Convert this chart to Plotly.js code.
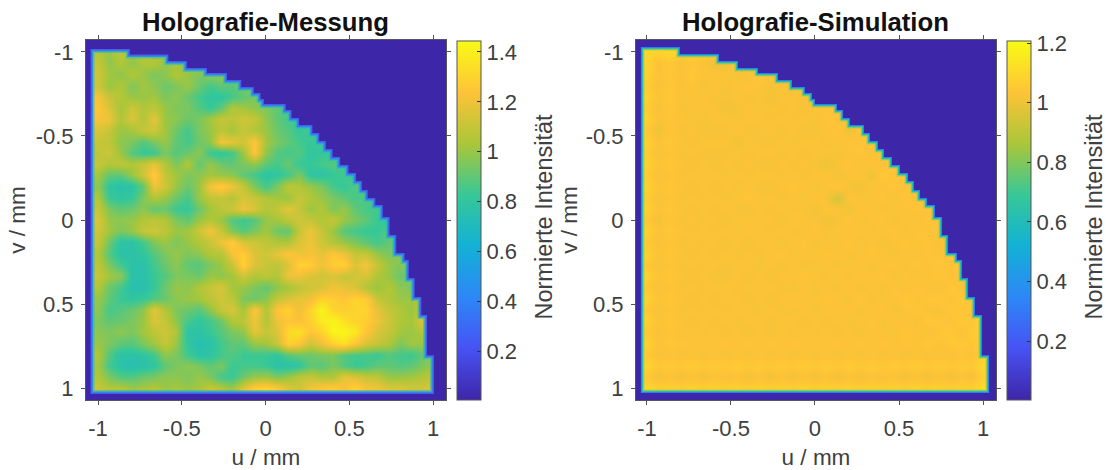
<!DOCTYPE html>
<html><head><meta charset="utf-8">
<script src="https://cdn.plot.ly/plotly-3.0.1.min.js"></script>
<style>html,body{margin:0;padding:0;background:#fff}#p{width:1106px;height:470px}</style></head>
<body><div id="p"></div>
<script>
const xTickVals=[-1,-0.5,0,0.5,1];
const xTickText=["-1","-0.5","0","0.5","1"];
const yTickVals=[-1,-0.5,0,0.5,1];
const yTickText=["-1","-0.5","0","0.5","1"];
const cbTicksMeas=[0.2,0.4,0.6,0.8,1,1.2,1.4];
const cbTicksSim=[0.2,0.4,0.6,0.8,1,1.2];
const cbText=["0.2","0.4","0.6","0.8","1","1.2","1.4"];
const parula=[[0,'#3e26a8'],[0.143,'#4752f4'],[0.286,'#2d87f7'],[0.429,'#12b1d6'],[0.571,'#37c897'],[0.714,'#abc639'],[0.857,'#fec338'],[1,'#f9fb14']];

const measRows=[
[1.05,1.0,1.08,1.02,1.08,1.0,1.05,.98],
[1.1,.98,1.05,.98,1.04,1.06,.98,1.02,.95,1.02,.98,.92],
[1.12,1.02,.98,1.05,1.0,.95,.98,1.05,1.0,.95,.98,1.0,.92,.95,.88],
[1.12,1.0,1.05,.95,1.02,.98,.92,.95,1.0,.92,.85,.9,.88,.95,.98,.92,.9],
[1.22,1.1,1.05,1.0,1.0,1.02,.95,.98,.92,.85,.8,.8,.85,.9,.95,.88,.95,.9,.85],
[1.25,1.15,1.02,1.12,1.05,1.08,1.0,.95,.95,.88,.82,.9,1.05,1.02,.98,.95,.9,.88,.92,.85],
[1.22,1.2,1.05,1.15,1.05,1.18,1.0,.98,.92,.95,1.02,1.1,1.08,1.12,1.1,.98,.9,.85,.82,.88,.82],
[1.15,1.1,1.0,1.02,1.1,1.12,1.02,.92,.85,.95,1.0,1.08,1.02,1.1,1.05,1.0,.92,.88,.82,.85,.9,.85],
[1.1,1.08,.98,.95,.88,.95,1.0,.9,.85,.92,.98,1.22,1.18,1.12,1.25,1.02,.95,.9,.85,.82,.85,.9,.82],
[1.08,1.12,1.0,.88,.82,.83,.95,.88,.92,.98,.83,.8,.85,1.0,1.25,.98,.88,.85,.88,.8,.82,.85,.88,.85],
[1.1,1.05,1.08,1.05,1.1,1.18,1.05,.95,1.05,.9,1.0,.92,.9,.95,.98,.9,.85,.92,.82,.82,.85,.88,.85,.9,.85],
[1.02,.9,.9,1.0,1.12,1.28,1.1,1.02,.95,.98,1.02,1.0,.98,.9,.85,.78,.8,.85,.95,.8,.78,.82,.85,.82,.88,.95],
[.98,.8,.76,.78,.9,1.2,1.12,1.0,.92,1.0,1.22,1.28,1.2,1.1,.95,.85,.95,1.08,1.05,1.0,.95,.85,.82,.88,.92,.9,.82],
[1.05,.83,.8,.82,.95,1.05,1.0,.92,.85,1.0,1.08,1.1,1.05,1.15,1.1,1.05,1.02,1.0,1.1,1.05,1.0,.95,.9,.85,.88,.85,.88,.82],
[1.1,.95,.9,.92,.98,.9,.92,.83,.82,.92,1.02,1.08,1.12,1.2,1.15,1.05,1.1,1.18,1.1,1.0,1.05,.95,1.0,.9,.85,.85,.9,.95],
[1.15,1.0,.98,1.0,1.05,1.08,1.05,.95,.9,1.0,1.05,1.0,.88,.83,.88,1.0,1.02,1.08,1.12,1.1,1.05,1.1,1.0,.95,.9,.83,.8,.88,.92],
[1.12,1.02,.95,1.0,1.1,1.12,1.08,1.0,1.02,1.12,1.22,1.1,.95,.88,.95,1.02,.92,.9,1.1,1.2,1.1,1.0,.88,.85,.82,.82,.88,.95,1.0,1.0],
[1.1,.92,.78,.77,.85,.95,1.0,.95,1.0,1.05,1.1,1.2,1.28,1.15,1.12,1.08,1.05,1.05,1.15,1.2,1.12,1.05,1.0,.95,.9,.85,.9,.95,.95,1.0],
[1.05,.88,.77,.77,.8,.88,.95,1.0,.95,.98,1.05,1.05,1.22,1.28,1.15,1.12,1.18,1.25,1.2,1.22,1.18,1.25,1.2,1.1,1.1,1.0,.95,1.0,.95,1.0],
[1.08,.95,.85,.77,.76,.85,.92,.98,.9,.88,.95,1.0,1.1,1.3,1.15,1.1,1.08,1.15,1.3,1.28,1.2,1.28,1.3,1.15,1.22,1.1,1.0,.95,1.0,.95,1.0],
[1.1,1.02,.98,.77,.76,.83,.88,.95,.95,.92,1.0,.98,1.02,1.12,1.05,1.08,1.05,1.2,1.2,1.15,1.12,1.15,1.1,1.12,1.15,1.05,1.0,.92,.95,1.0,1.02],
[1.05,.92,.85,.75,.75,.82,.92,1.0,.98,1.05,1.1,1.15,1.02,1.0,.95,.9,.98,1.02,1.08,1.12,1.15,1.2,1.18,1.15,1.05,1.0,1.05,.98,.95,1.02,1.0],
[1.0,.9,.83,.8,.83,.88,.92,.98,1.0,1.02,1.08,1.12,1.08,.95,.92,.98,1.1,1.15,1.18,1.2,1.3,1.28,1.25,1.3,1.28,1.1,1.05,1.0,1.02,1.05,1.0],
[.98,.85,.88,.92,.98,1.18,1.05,.95,.92,.88,.98,1.1,1.15,1.02,1.25,1.05,1.25,1.3,1.2,1.3,1.42,1.3,1.28,1.3,1.3,1.18,1.1,1.05,1.0,1.1,1.05],
[.95,.9,.92,.95,1.0,1.15,1.1,.98,.85,.8,.85,.92,1.05,1.08,1.2,1.05,1.2,1.25,1.22,1.28,1.38,1.42,1.35,1.3,1.28,1.2,1.12,1.05,1.02,1.15,1.15],
[.98,.95,.98,.95,1.02,1.08,1.12,1.05,.78,.78,.83,.88,.95,.98,1.18,1.1,1.15,1.32,1.35,1.25,1.3,1.42,1.42,1.38,1.25,1.15,1.1,1.02,1.0,1.05,1.08],
[1.0,.95,.9,.88,.95,1.02,1.1,1.0,.8,.74,.77,.85,.9,.9,1.0,1.02,1.1,1.3,1.25,1.12,1.2,1.3,1.35,1.25,1.15,1.1,1.05,.95,1.02,1.0,1.02],
[1.05,.88,.77,.77,.79,.85,.98,.95,.85,.77,.79,.85,.88,.83,.83,.83,.8,.88,.92,.92,.95,.95,.88,.85,.85,.83,.88,.85,.83,.9,1.0],
[1.02,.85,.77,.74,.76,.8,.9,.95,.98,.95,.9,.95,.83,.85,.85,.83,.77,.77,.8,.9,.88,.95,.88,.83,.85,.9,.9,.88,.9,.95,1.02],
[1.05,.95,.88,.88,.92,.95,.98,.98,.95,1.0,.95,.85,.83,.92,1.0,1.02,.95,1.0,1.08,1.1,1.05,1.05,1.18,1.15,1.1,1.08,1.0,1.0,1.02,1.05,1.08],
[1.1,1.05,1.05,1.0,1.02,1.05,1.0,1.02,1.0,1.02,1.1,1.05,1.0,1.15,1.28,1.3,1.25,1.15,1.12,1.2,1.25,1.28,1.22,1.3,1.22,1.2,1.15,1.15,1.12,1.12,1.15]
];
const simRows=[
[1.1,1.08,1.1,1.07,1.1,1.08,1.09,1.08],
[1.08,1.03,1.05,1.02,1.04,1.03,1.0,1.0,1.05,1.06,1.05,1.03],
[1.08,1.03,1.05,1.03,1.05,1.03,1.04,1.03,1.02,1.02,1.05,1.03,1.05,1.06,1.05],
[1.06,1.02,1.05,1.02,1.04,1.02,1.03,1.02,1.03,1.04,1.03,1.02,1.03,1.03,1.05,1.05,1.08],
[1.08,1.03,1.05,1.03,1.03,1.03,1.02,1.02,1.03,1.02,1.03,1.01,1.03,1.03,1.02,1.03,1.05,1.06,1.08],
[1.06,1.02,1.05,1.02,1.03,1.03,1.03,1.01,1.02,1.03,1.02,1.03,1.02,1.03,1.02,1.03,1.03,1.04,1.02,1.08],
[1.08,1.03,1.04,1.03,1.02,1.02,1.03,1.03,1.02,1.03,1.03,1.02,1.03,1.02,1.03,1.02,1.04,1.03,1.05,1.03,1.1],
[1.05,1.0,1.04,1.02,1.03,1.02,1.02,1.02,1.03,1.02,1.02,1.03,1.02,1.03,1.02,1.02,1.03,1.04,1.0,1.05,1.06,1.08],
[1.08,1.03,1.05,1.03,1.02,1.03,1.03,1.03,1.01,1.03,1.02,1.02,1.03,1.02,1.03,1.03,1.02,1.03,1.04,1.03,1.05,1.06,1.05],
[1.06,1.02,1.04,1.02,1.03,1.02,1.02,1.02,1.03,1.02,1.03,1.03,1.02,1.03,1.02,1.03,1.03,1.02,1.03,1.04,1.02,1.05,1.08,1.08],
[1.08,1.03,1.05,1.03,1.02,1.03,1.02,1.03,1.02,1.03,1.02,1.02,1.03,1.02,1.03,1.02,1.0,1.03,1.04,1.02,1.04,1.03,1.05,1.08,1.1],
[1.06,1.02,1.04,1.02,1.03,1.02,1.03,1.02,1.03,1.02,1.03,1.03,1.02,1.03,1.02,1.03,1.04,1.01,1.03,1.04,1.0,1.05,1.03,1.05,1.08,1.1],
[1.08,1.03,1.05,1.03,1.02,1.03,1.02,1.03,1.02,1.03,1.02,1.02,1.03,1.04,1.03,1.02,1.03,1.05,1.02,1.01,1.04,1.03,1.04,1.03,1.05,1.06,1.1],
[1.06,1.02,1.04,1.02,1.03,1.02,1.03,1.02,1.03,1.04,1.03,1.03,1.02,1.03,1.02,1.04,1.02,.95,1.04,1.03,1.02,1.04,1.02,1.04,1.03,1.05,1.06,1.08],
[1.08,1.03,1.05,1.03,1.02,1.03,1.02,1.03,1.02,1.02,1.03,1.02,1.03,1.02,1.03,1.01,1.04,1.03,1.01,1.04,1.03,1.02,1.03,1.03,1.04,1.03,1.05,1.1],
[1.05,1.01,1.04,1.02,1.03,1.02,1.03,1.02,1.03,1.03,1.02,1.03,1.02,1.04,1.02,1.03,1.01,1.02,1.04,1.02,1.03,1.04,1.02,1.03,1.02,1.04,1.03,1.06,1.08],
[1.08,1.03,1.05,1.03,1.02,1.03,1.02,1.03,1.02,1.03,1.03,1.02,1.03,1.02,1.03,1.04,1.02,1.04,1.03,1.03,1.02,1.03,1.04,1.02,1.04,1.03,1.04,1.03,1.06,1.1],
[1.05,1.02,1.04,1.02,1.03,1.02,1.03,1.02,1.03,1.02,1.03,1.03,1.02,1.03,1.04,1.02,1.03,1.02,1.04,1.02,1.03,1.02,1.03,1.04,1.03,1.04,1.02,1.05,1.05,1.08],
[1.08,1.03,1.05,1.03,1.02,1.03,1.02,1.03,1.02,1.03,1.02,1.03,1.04,1.02,1.03,1.03,1.04,1.03,1.02,1.03,1.04,1.03,1.02,1.03,1.02,1.04,1.03,1.04,1.06,1.1],
[1.05,1.02,1.04,1.02,1.03,1.02,1.03,1.02,1.03,1.03,1.02,1.03,1.02,1.03,1.02,1.02,1.03,1.02,1.03,1.03,1.02,1.03,1.04,1.02,1.04,1.03,1.04,1.03,1.05,1.06,1.1],
[1.08,1.03,1.05,1.03,1.02,1.03,1.02,1.02,1.03,1.02,1.03,1.02,1.03,1.03,1.04,1.03,1.02,1.04,1.02,1.04,1.03,1.04,1.02,1.04,1.02,1.03,1.04,1.03,1.04,1.06,1.1],
[1.05,1.02,1.04,1.02,1.03,1.02,1.03,1.03,1.02,1.03,1.03,1.03,1.02,1.02,1.03,1.02,1.03,1.02,1.04,1.02,1.03,1.02,1.04,1.02,1.04,1.03,1.02,1.05,1.03,1.05,1.08],
[1.08,1.03,1.05,1.03,1.02,1.03,1.02,1.03,1.03,1.02,1.03,1.02,1.03,1.04,1.03,1.03,1.04,1.03,1.02,1.04,1.02,1.03,1.03,1.05,1.03,1.04,1.05,1.03,1.05,1.04,1.1],
[1.05,1.02,1.04,1.02,1.03,1.02,1.03,1.02,1.03,1.03,1.02,1.03,1.02,1.02,1.03,1.02,1.03,1.03,1.04,1.02,1.03,1.04,1.02,1.03,1.04,1.03,1.02,1.05,1.04,1.05,1.08],
[1.08,1.03,1.05,1.03,1.02,1.03,1.02,1.03,1.02,1.03,1.03,1.02,1.03,1.03,1.02,1.03,1.02,1.03,1.02,1.03,1.04,1.02,1.04,1.03,1.02,1.05,1.04,1.03,1.05,1.04,1.1],
[1.05,1.02,1.04,1.02,1.03,1.02,1.03,1.02,1.03,1.02,1.03,1.02,1.03,1.02,1.03,1.02,1.03,1.02,1.03,1.02,1.03,1.03,1.02,1.04,1.03,1.02,1.04,1.05,1.03,1.06,1.06],
[1.08,1.03,1.05,1.04,1.03,1.04,1.03,1.04,1.03,1.04,1.03,1.04,1.03,1.04,1.03,1.04,1.03,1.04,1.03,1.04,1.03,1.04,1.03,1.04,1.03,1.05,1.03,1.05,1.05,1.04,1.08],
[1.05,1.02,1.03,1.02,1.03,1.02,1.03,1.02,1.03,1.02,1.03,1.02,1.03,1.02,1.03,1.02,1.03,1.02,1.03,1.02,1.03,1.02,1.03,1.02,1.03,1.02,1.03,1.02,1.04,1.03,1.08],
[1.09,1.05,1.06,1.05,1.06,1.05,1.06,1.05,1.06,1.05,1.06,1.05,1.06,1.05,1.06,1.05,1.06,1.05,1.06,1.05,1.06,1.05,1.06,1.05,1.06,1.05,1.06,1.05,1.06,1.05,1.1],
[1.05,1.01,1.03,1.01,1.03,1.01,1.03,1.02,1.03,1.01,1.03,1.01,1.03,1.01,1.03,1.01,1.03,1.01,1.03,1.01,1.03,1.02,1.03,1.01,1.03,1.01,1.03,1.01,1.03,1.02,1.07],
[1.1,1.07,1.08,1.07,1.08,1.07,1.08,1.07,1.08,1.07,1.08,1.07,1.08,1.07,1.08,1.07,1.08,1.07,1.08,1.07,1.08,1.07,1.08,1.07,1.08,1.07,1.08,1.07,1.08,1.07,1.12]
];
const measEdgeU=[-1.045,1.005,1.005,.964,.964,.93,.93,.89,.89,.855,.855,.83,.83,.78,.78,.74,.74,.70,.70,.655,.655,.61,.61,.575,.575,.54,.54,.495,.495,.445,.445,.40,.40,.36,.36,.32,.32,.28,.28,.20,.20,.155,.155,.12,.12,-.01,-.01,-.03,-.03,-.07,-.07,-.145,-.145,-.23,-.23,-.35,-.35,-.47,-.47,-.58,-.58,-.81,-.81,-1.045,-1.045];
const measEdgeV=[1.035,1.035,.804,.804,.565,.565,.458,.458,.345,.345,.238,.238,.196,.196,.089,.089,-.018,-.018,-.089,-.089,-.131,-.131,-.179,-.179,-.232,-.232,-.280,-.280,-.327,-.327,-.375,-.375,-.423,-.423,-.470,-.470,-.518,-.518,-.565,-.565,-.607,-.607,-.655,-.655,-.690,-.690,-.720,-.720,-.756,-.756,-.792,-.792,-.833,-.833,-.875,-.875,-.905,-.905,-.946,-.946,-.985,-.985,-1.018,-1.018,1.035];
const simEdgeU=[-1.036,1.036,1.036,.994,.994,.952,.952,.911,.911,.875,.875,.845,.845,.792,.792,.756,.756,.714,.714,.667,.667,.625,.625,.589,.589,.554,.554,.506,.506,.458,.458,.411,.411,.375,.375,.327,.327,.292,.292,.208,.208,.167,.167,.131,.131,0,0,-.018,-.018,-.060,-.060,-.137,-.137,-.220,-.220,-.339,-.339,-.458,-.458,-.571,-.571,-.804,-.804,-1.036,-1.036];
const simEdgeV=[1.03,1.03,.804,.804,.565,.565,.458,.458,.345,.345,.238,.238,.196,.196,.089,.089,-.018,-.018,-.089,-.089,-.131,-.131,-.179,-.179,-.232,-.232,-.280,-.280,-.327,-.327,-.375,-.375,-.423,-.423,-.470,-.470,-.518,-.518,-.565,-.565,-.607,-.607,-.655,-.655,-.690,-.690,-.720,-.720,-.756,-.756,-.792,-.792,-.833,-.833,-.875,-.875,-.905,-.905,-.946,-.946,-.988,-.988,-1.03,-1.03,1.03];

const W=1106,H=470,DARK='#3e26a8',TXT='#404040',AX='#555555';
const fontFam='"Liberation Sans",Arial,sans-serif';
const pad=rows=>rows.map(r=>r.concat(new Array(31-r.length).fill(r[r.length-1])));
const hm=(z,xa,ya,zmin,zmax,cbx,ticks)=>({type:'heatmap',z:pad(z),x0:-1,dx:1/15,y0:-1,dy:1/15,xaxis:xa,yaxis:ya,zmin,zmax,zsmooth:'best',colorscale:parula,hoverinfo:'skip',
 colorbar:{x:cbx/W,xanchor:'left',xpad:0,ypad:0,thickness:24,thicknessmode:'pixels',len:359/H,lenmode:'fraction',y:1-400/H,yanchor:'bottom',
  outlinecolor:AX,outlinewidth:1,ticks:'inside',ticklen:4,tickwidth:1,tickcolor:'#333',tickvals:ticks,ticktext:cbText.slice(0,ticks.length),
  tickfont:{family:fontFam,size:22,color:TXT}}});
const edge=(u,v,xa,ya,col,w,op)=>({type:'scatter',mode:'lines',x:u,y:v,xaxis:xa,yaxis:ya,opacity:op,line:{color:col,width:w,shape:'linear'},hoverinfo:'skip',showlegend:false});
const mask=(u,v,xa,ya)=>({type:'scatter',mode:'none',fill:'toself',fillcolor:DARK,xaxis:xa,yaxis:ya,hoverinfo:'skip',showlegend:false,
 x:[-1.2,-1.2,1.2,1.2,-1.2,u[0]].concat(u).concat([-1.2]),y:[1.2,-1.2,-1.2,1.2,1.2,v[0]].concat(v).concat([1.2])});

const data=[
 hm(measRows,'x','y',0.004,1.444,457,cbTicksMeas),
 edge(measEdgeU,measEdgeV,'x','y','#2fb8b8',8,0.6),
 edge(measEdgeU,measEdgeV,'x','y','#2b90e8',5,1),
 edge(measEdgeU,measEdgeV,'x','y','#4a5cf0',2.5,1),
 mask(measEdgeU,measEdgeV,'x','y'),
 hm(simRows,'x2','y2',0.003,1.207,1007,cbTicksSim),
 edge(simEdgeU,simEdgeV,'x2','y2','#9cc850',7,0.7),
 edge(simEdgeU,simEdgeV,'x2','y2','#22c0b0',4.5,1),
 edge(simEdgeU,simEdgeV,'x2','y2','#2f80f0',2,1),
 mask(simEdgeU,simEdgeV,'x2','y2')
];
const ax=(dom,rng,vals,text,title,anchor,stand,lblOff)=>({domain:dom,range:rng,anchor,tickmode:'array',tickvals:vals,ticktext:text,ticks:'outside',ticklen:4,tickwidth:1,tickcolor:AX,
 showline:true,linecolor:AX,linewidth:1,mirror:'ticks',showgrid:false,zeroline:false,tickfont:{family:fontFam,size:22,color:TXT},ticklabelstandoff:lblOff,
 title:{text:title,font:{family:fontFam,size:22.5,color:TXT},standoff:stand},automargin:false,layer:'above traces'});
const yd=[1-400/H,1-40/H];
const cbTitle=x=>({text:'Normierte Intensität',xref:'paper',yref:'paper',x:x/W,y:1-216.5/H,xanchor:'center',yanchor:'middle',textangle:-90,showarrow:false,font:{family:fontFam,size:23.5,color:TXT}});
const layout={width:W,height:H,margin:{l:0,r:0,t:0,b:0},paper_bgcolor:'#fff',plot_bgcolor:DARK,showlegend:false,
 xaxis:ax([86/W,446/W],[-1.072,1.077],xTickVals,xTickText,'u / mm','y',8,5),
 yaxis:ax(yd,[1.071,-1.071],yTickVals,yTickText,'v / mm','x',3,3),
 xaxis2:ax([636/W,996/W],[-1.065,1.077],xTickVals,xTickText,'u / mm','y2',8,5),
 yaxis2:ax(yd,[1.071,-1.071],yTickVals,yTickText,'v / mm','x2',1,3),
 annotations:[
  {text:'<b>Holografie-Messung</b>',xref:'paper',yref:'paper',x:265.5/W,y:1-22/H,xanchor:'center',yanchor:'middle',showarrow:false,font:{family:fontFam,size:25.7,color:'#111'}},
  {text:'<b>Holografie-Simulation</b>',xref:'paper',yref:'paper',x:815.5/W,y:1-22/H,xanchor:'center',yanchor:'middle',showarrow:false,font:{family:fontFam,size:25.7,color:'#111'}},
  cbTitle(543),cbTitle(1093)
 ]};
Plotly.newPlot('p',data,layout,{displayModeBar:false,staticPlot:true});
</script></body></html>
